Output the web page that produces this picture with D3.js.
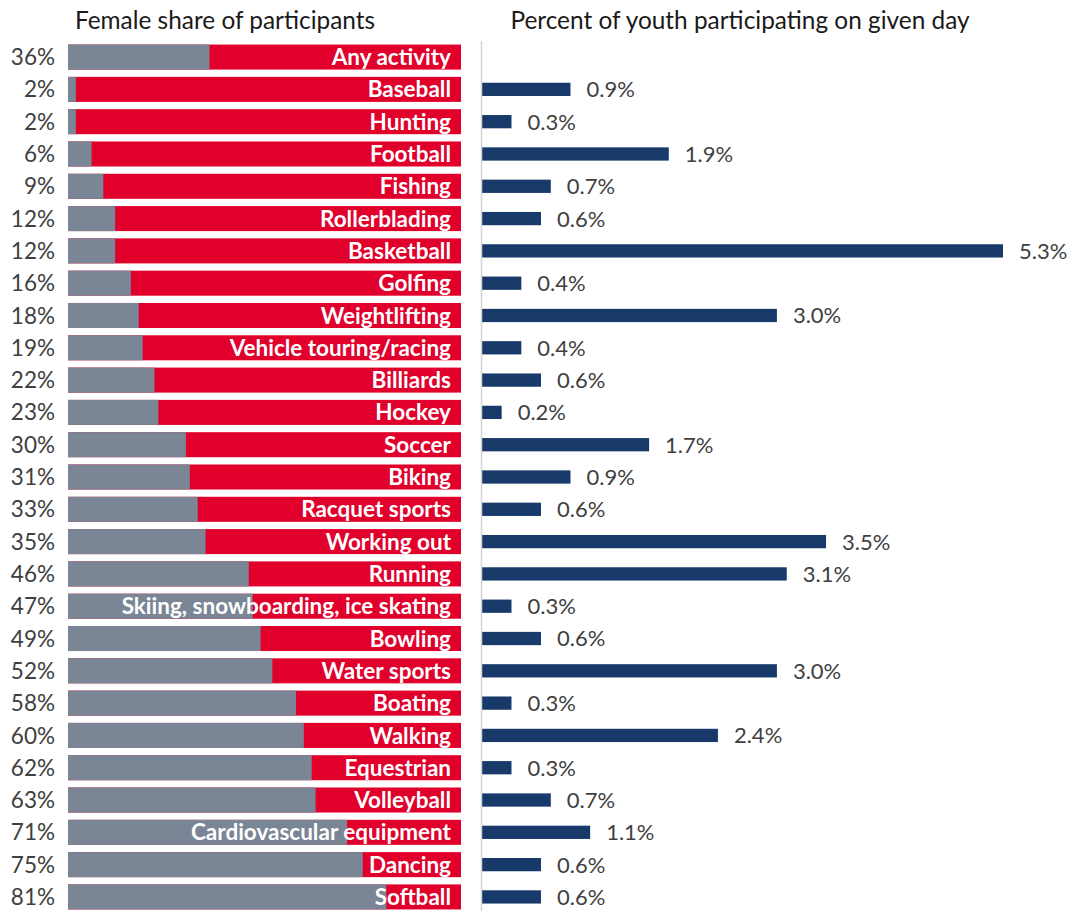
<!DOCTYPE html>
<html>
<head>
<meta charset="utf-8">
<script src="https://cdn.jsdelivr.net/npm/d3@7"></script>
<style>
  html, body { margin: 0; padding: 0; background: #ffffff; }
  svg { display: block; }
  text { font-family: Lato, "Open Sans", sans-serif; }
</style>
</head>
<body>
<svg id="chart" width="1075" height="911"></svg>
<script>
// Activities, top to bottom
const activities = [
  "Any activity", "Baseball", "Hunting", "Football", "Fishing", "Rollerblading",
  "Basketball", "Golfing", "Weightlifting", "Vehicle touring/racing", "Billiards",
  "Hockey", "Soccer", "Biking", "Racquet sports", "Working out", "Running",
  "Skiing, snowboarding, ice skating", "Bowling", "Water sports", "Boating",
  "Walking", "Equestrian", "Volleyball", "Cardiovascular equipment", "Dancing", "Softball"
];

// Female share of participants (%)
const femaleShare = [36, 2, 2, 6, 9, 12, 12, 16, 18, 19, 22, 23, 30, 31, 33, 35, 46,
  47, 49, 52, 58, 60, 62, 63, 71, 75, 81];

// Percent of youth participating on a given day (null = not shown)
const dailyPct = [null, 0.9, 0.3, 1.9, 0.7, 0.6, 5.3, 0.4, 3.0, 0.4, 0.6, 0.2, 1.7,
  0.9, 0.6, 3.5, 3.1, 0.3, 0.6, 3.0, 0.3, 2.4, 0.3, 0.7, 1.1, 0.6, 0.6];

const titles = ["Female share of participants", "Percent of youth participating on given day"];

const svg = d3.select("#chart");
const colors = { female: "#7a8595", male: "#e0002b", daily: "#173a6a", text: "#404040" };

// Shared vertical band scale for the rows
const y = d3.scaleBand()
  .domain(activities)
  .range([41, 913])
  .paddingInner(0.225)
  .paddingOuter(0.11);

// ---- Left panel: female vs. male share stacked to 100% ----
const xL = d3.scaleLinear().domain([0, 100]).range([68, 461]);

const left = svg.append("g");
const rows = left.selectAll("g.row")
  .data(activities.map((a, i) => ({ name: a, share: femaleShare[i] })))
  .join("g").attr("class", "row");

rows.append("rect")
  .attr("x", xL(0))
  .attr("y", d => y(d.name))
  .attr("width", xL(100) - xL(0))
  .attr("height", y.bandwidth())
  .attr("fill", colors.male);

rows.append("rect")
  .attr("x", xL(0))
  .attr("y", d => y(d.name))
  .attr("width", d => xL(d.share) - xL(0))
  .attr("height", y.bandwidth())
  .attr("fill", colors.female);

rows.append("text")
  .attr("x", xL(100) - 10)
  .attr("y", d => y(d.name) + y.bandwidth() / 2)
  .attr("dy", "0.36em")
  .attr("text-anchor", "end")
  .attr("fill", "#ffffff")
  .attr("font-weight", "bold")
  .attr("font-size", 22.5)
  .text(d => d.name);

rows.append("text")
  .attr("x", 55)
  .attr("y", d => y(d.name) + y.bandwidth() / 2)
  .attr("dy", "0.36em")
  .attr("text-anchor", "end")
  .attr("fill", colors.text)
  .attr("font-size", 22.5)
  .text(d => d.share + "%");

// ---- Right panel: daily participation ----
const xR = d3.scaleLinear().domain([0, 5.3]).range([482, 1003]);

const right = svg.append("g");
const dailyRows = activities
  .map((a, i) => ({ name: a, pct: dailyPct[i] }))
  .filter(d => d.pct !== null);

const barH = y.bandwidth() * 0.53;

right.selectAll("rect")
  .data(dailyRows)
  .join("rect")
  .attr("x", xR(0))
  .attr("y", d => y(d.name) + (y.bandwidth() - barH) / 2)
  .attr("width", d => xR(d.pct) - xR(0))
  .attr("height", barH)
  .attr("fill", colors.daily);

right.selectAll("text")
  .data(dailyRows)
  .join("text")
  .attr("x", d => xR(d.pct) + 16)
  .attr("y", d => y(d.name) + y.bandwidth() / 2)
  .attr("dy", "0.36em")
  .attr("fill", colors.text)
  .attr("font-size", 22)
  .text(d => d3.format(".1f")(d.pct) + "%");

// Baseline of the right panel
svg.append("line")
  .attr("x1", xR(0) - 0.5).attr("x2", xR(0) - 0.5)
  .attr("y1", 41).attr("y2", 911)
  .attr("stroke", "#d4d4d4")
  .attr("stroke-width", 1.5);

// Panel titles
svg.append("text")
  .attr("x", 225).attr("y", 29)
  .attr("text-anchor", "middle")
  .attr("font-size", 24.4)
  .attr("fill", "#1a1a1a")
  .text(titles[0]);

svg.append("text")
  .attr("x", 740).attr("y", 29)
  .attr("text-anchor", "middle")
  .attr("font-size", 24.4)
  .attr("fill", "#1a1a1a")
  .text(titles[1]);
</script>
</body>
</html>
